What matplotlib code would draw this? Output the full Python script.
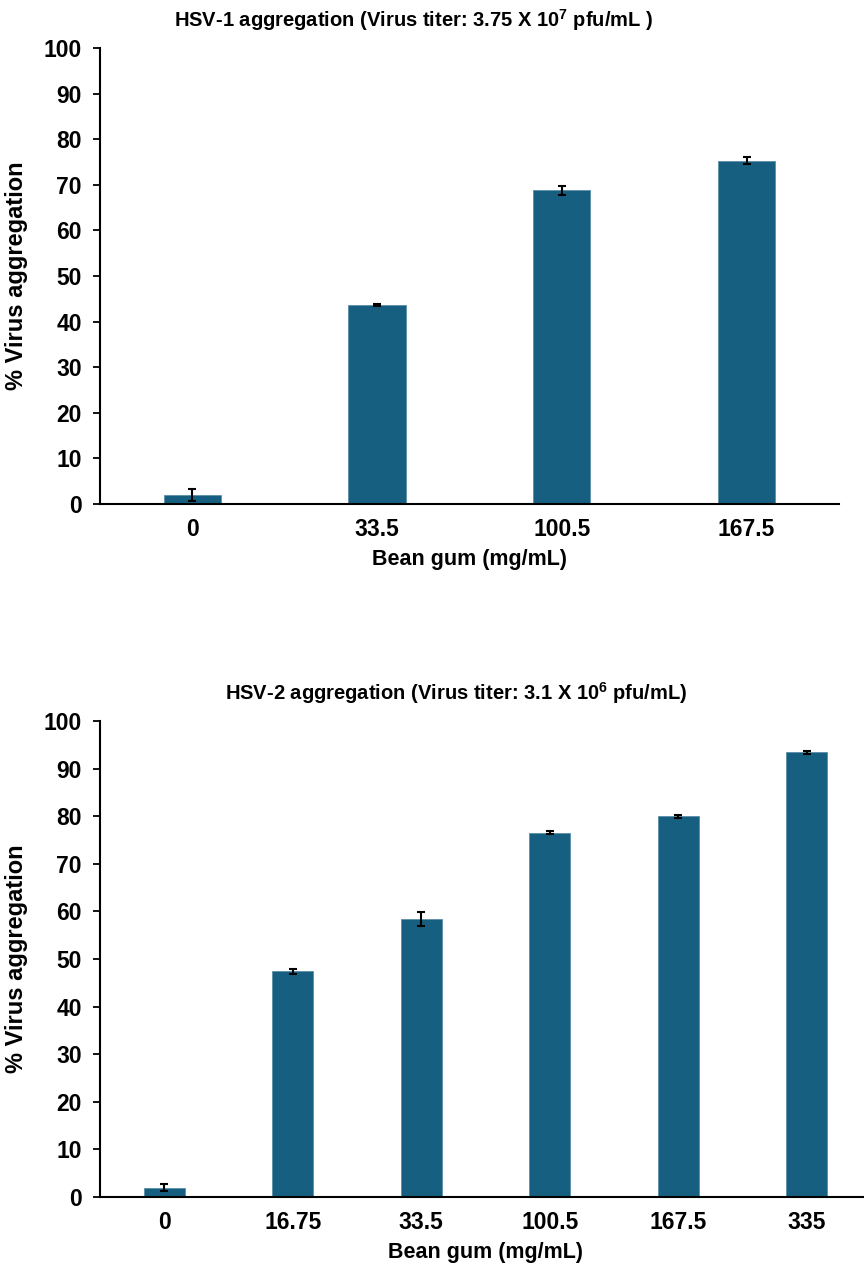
import matplotlib
matplotlib.use("Agg")
import matplotlib.pyplot as plt

# HSV-1 panel
hsv1_doses = ["0", "33.5", "100.5", "167.5"]
hsv1_mean = [2.0, 43.6, 68.8, 75.3]
hsv1_err = [1.3, 0.2, 1.0, 0.8]

# HSV-2 panel
hsv2_doses = ["0", "16.75", "33.5", "100.5", "167.5", "335"]
hsv2_mean = [2.0, 47.4, 58.4, 76.5, 80.0, 93.4]
hsv2_err = [0.8, 0.6, 1.5, 0.3, 0.3, 0.3]

yticks = list(range(0, 101, 10))

plt.rcParams['font.family'] = ['Liberation Sans', 'DejaVu Sans']
plt.rcParams['font.weight'] = 'bold'
plt.rcParams['mathtext.fontset'] = 'custom'
plt.rcParams['mathtext.rm'] = 'Liberation Sans:bold'
plt.rcParams['mathtext.bf'] = 'Liberation Sans:bold'

BAR = '#175f80'


def panel(ax, cats, vals, errs, width, title, title_x):
    """ one bar panel with error bars, excel look """
    xs = list(range(len(cats)))
    ax.bar(xs, vals, width=width, color=BAR, edgecolor='#5a8fa8', linewidth=0.6,
           zorder=2)
    ax.errorbar(xs, vals, yerr=errs, fmt='none', ecolor='black', elinewidth=1.5,
                capsize=3, capthick=1.5, zorder=3)
    ax.set_xlim(-0.5, len(cats) - 0.5)
    ax.set_ylim(0, 100)
    ax.set_yticks(yticks)
    ax.set_xticks(xs)
    ax.set_xticklabels(cats)
    for s in ['top', 'right']:
        ax.spines[s].set_visible(False)
    for s in ['left', 'bottom']:
        ax.spines[s].set_linewidth(1.5)
    ax.tick_params(axis='x', length=0, pad=10, labelsize=16.5)
    ax.tick_params(axis='y', length=5, width=1.3, pad=8, labelsize=16.5)
    ax.set_xlabel('Bean gum (mg/mL)', fontsize=15.5, fontweight='bold', labelpad=6)
    ax.set_ylabel('% Virus aggregation', fontsize=17, fontweight='bold', labelpad=11)
    ax.set_title(title, fontsize=14.5, fontweight='bold', x=title_x, pad=15)


fig = plt.figure(figsize=(8.64, 12.71), dpi=100)
ax1 = fig.add_axes([0.1157, 0.6035, 0.8553, 0.3588])
ax2 = fig.add_axes([0.1157, 0.0582, 0.8924, 0.3745])

panel(ax1, hsv1_doses, hsv1_mean, hsv1_err, 0.31,
      r'HSV-1 aggregation (Virus titer: 3.75 X 10$^{7}$ pfu/mL )', 0.424)
panel(ax2, hsv2_doses, hsv2_mean, hsv2_err, 0.32,
      r'HSV-2 aggregation (Virus titer: 3.1 X 10$^{6}$ pfu/mL)', 0.462)

fig.savefig('out.png', dpi=100)
